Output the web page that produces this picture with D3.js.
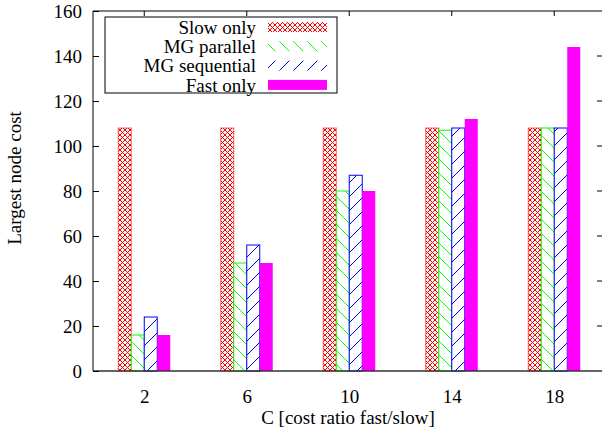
<html>
<head>
<style>
  body { margin: 0; background: #fff; }
  svg text { font-family: "Liberation Serif", "DejaVu Serif", serif !important; font-size: 19px !important; fill: #000; }
</style>
</head>
<body>
<svg id="chart" width="602" height="432"></svg>
<script src="https://cdn.jsdelivr.net/npm/d3@7"></script>
<script>
// data
let categories = ["2", "6", "10", "14", "18"]
let seriesNames = ["Slow only", "MG parallel", "MG sequential", "Fast only"]
let slowOnly = [108, 108, 108, 108, 108]
let mgParallel = [16, 48, 80, 107, 108]
let mgSequential = [24, 56, 87, 108, 108]
let fastOnly = [16, 48, 80, 112, 144]
let yTicks = [0, 20, 40, 60, 80, 100, 120, 140, 160]

let series = [slowOnly, mgParallel, mgSequential, fastOnly]
let colors = ["#ff0000", "#00ff00", "#0000ff", "#ff00ff"]
let fills = ["url(#cross)", "url(#back)", "url(#fwd)", "#ff00ff"]

let svg = d3.select("#chart")
let plotLeft = 93, plotRight = 605.5, plotTop = 11, plotBottom = 371

// patterns
let defs = svg.append("defs")
let cross = defs.append("pattern").attr("id", "cross").attr("patternUnits", "userSpaceOnUse")
    .attr("width", 5).attr("height", 5)
cross.append("rect").attr("width", 5).attr("height", 5).attr("fill", "#fff")
cross.append("path").attr("d", "M0,0L5,5M5,0L0,5").attr("stroke", "#ff0000").attr("stroke-width", 1)

let hp = 14
let back = defs.append("pattern").attr("id", "back").attr("patternUnits", "userSpaceOnUse")
    .attr("width", hp).attr("height", hp)
back.append("rect").attr("width", hp).attr("height", hp).attr("fill", "#fff")
back.append("path").attr("d", `M0,0L${hp},${hp}M${-hp},0L${hp},${2 * hp}M0,${-hp}L${2 * hp},${hp}`)
    .attr("stroke", "#00ff00").attr("stroke-width", 1)

let fwd = defs.append("pattern").attr("id", "fwd").attr("patternUnits", "userSpaceOnUse")
    .attr("width", hp).attr("height", hp)
fwd.append("rect").attr("width", hp).attr("height", hp).attr("fill", "#fff")
fwd.append("path").attr("d", `M0,${hp}L${hp},0M${-hp},${hp}L${hp},${-hp}M0,${2 * hp}L${2 * hp},0`)
    .attr("stroke", "#0000ff").attr("stroke-width", 1)

let x = d3.scalePoint().domain(categories).range([plotLeft, plotRight]).padding(0.5)
let sub = d3.scaleBand().domain(d3.range(4)).range([-26, 26])
let y = d3.scaleLinear().domain([0, 160]).range([plotBottom, plotTop])

// bars
series.forEach((vals, i) => {
    svg.append("g").selectAll("rect")
        .data(vals)
        .enter().append("rect")
        .attr("x", (d, j) => x(categories[j]) + sub(i))
        .attr("y", d => y(d))
        .attr("width", sub.bandwidth())
        .attr("height", d => y(0) - y(d))
        .attr("fill", fills[i])
        .attr("stroke", i == 3 ? "none" : colors[i])
        .attr("stroke-opacity", i == 0 ? 0.6 : 1)
        .attr("stroke-width", 1)
})

// frame
svg.append("path").attr("d", `M${plotLeft},${plotBottom}V${plotTop}H602`).attr("fill", "none").attr("stroke", "#000").attr("stroke-width", 1)
svg.append("line").attr("x1", plotLeft).attr("x2", 602).attr("y1", plotBottom).attr("y2", plotBottom)
    .attr("stroke", "#333").attr("stroke-width", 1.5)

// y axis
let yAxis = d3.axisLeft(y).tickValues(yTicks).tickSize(-6).tickPadding(11)
let gy = svg.append("g").attr("transform", `translate(${plotLeft},0)`).call(yAxis)
gy.select(".domain").remove()
gy.selectAll("text").attr("dy", "0.35em")
// mirrored right ticks
svg.append("g").selectAll("line").data(yTicks.slice(1, -1)).enter().append("line")
    .attr("x1", 597).attr("x2", 602).attr("y1", d => y(d)).attr("y2", d => y(d)).attr("stroke", "#000")

// x axis
let xAxis = d3.axisBottom(x).tickSize(0).tickPadding(19)
let gx = svg.append("g").attr("transform", `translate(0,${plotBottom})`).call(xAxis)
gx.select(".domain").remove()
// top mirrored ticks
svg.append("g").selectAll("line").data(categories).enter().append("line")
    .attr("x1", d => x(d)).attr("x2", d => x(d)).attr("y1", plotTop).attr("y2", plotTop + 5).attr("stroke", "#000")

// titles
svg.append("text").attr("x", 348).attr("y", 424).attr("text-anchor", "middle").text("C [cost ratio fast/slow]")
svg.append("text").attr("transform", "translate(21,178) rotate(-90)").attr("text-anchor", "middle").text("Largest node cost")

// legend
let legend = svg.append("g")
legend.append("rect").attr("x", 105).attr("y", 17).attr("width", 232).attr("height", 76)
    .attr("fill", "#fff").attr("stroke", "#000").attr("stroke-width", 1)
seriesNames.forEach((name, i) => {
    let cy = 27 + i * 19.3
    legend.append("text").attr("x", 256).attr("y", cy).attr("dy", "0.35em").attr("text-anchor", "end").text(name)
    legend.append("rect").attr("x", 268).attr("y", cy - 5).attr("width", 59).attr("height", 10).attr("fill", fills[i])
})
</script>
</body>
</html>
